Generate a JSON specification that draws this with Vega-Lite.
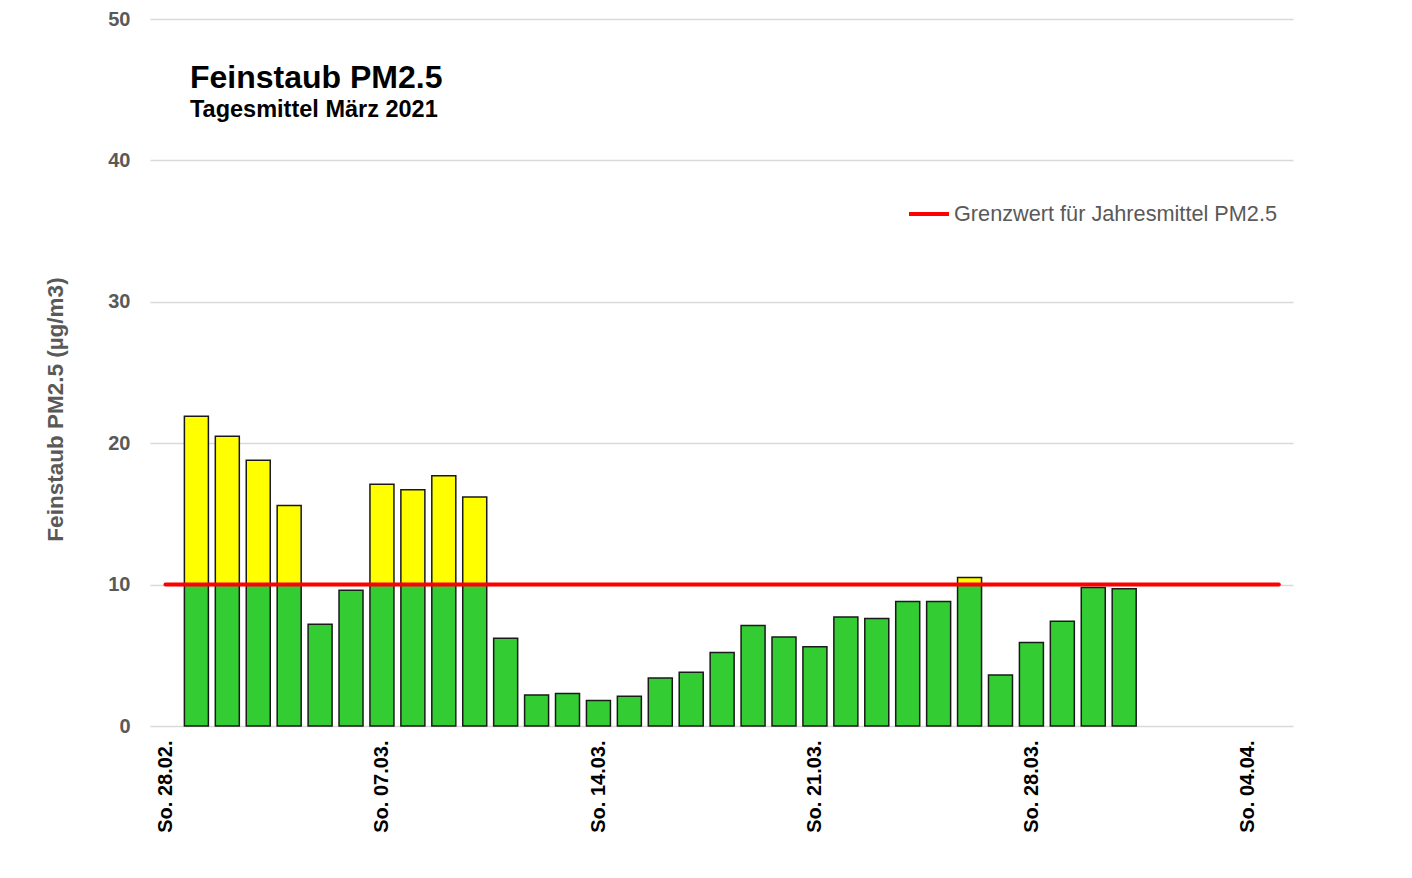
{
  "$schema": "https://vega.github.io/schema/vega-lite/v6.json",
  "autosize": {"type": "none"},
  "padding": {"top": 19, "left": 150, "right": 119, "bottom": 152},
  "width": 1143,
  "height": 707,
  "background": "white",
  "config": {
    "font": "Liberation Sans",
    "view": {"stroke": null}
  },
  "title": {
    "text": "Feinstaub PM2.5",
    "subtitle": "Tagesmittel März 2021",
    "anchor": "start",
    "frame": "group",
    "dx": 40,
    "dy": 117,
    "fontSize": 32,
    "fontWeight": "bold",
    "color": "#000000",
    "subtitleFontSize": 23.5,
    "subtitleFontWeight": "bold",
    "subtitleColor": "#000000",
    "subtitlePadding": 3
  },
  "datasets": {
    "tage": [
      {"Datum": "2021-03-01", "PM25": 21.9},
      {"Datum": "2021-03-02", "PM25": 20.5},
      {"Datum": "2021-03-03", "PM25": 18.8},
      {"Datum": "2021-03-04", "PM25": 15.6},
      {"Datum": "2021-03-05", "PM25": 7.2},
      {"Datum": "2021-03-06", "PM25": 9.6},
      {"Datum": "2021-03-07", "PM25": 17.1},
      {"Datum": "2021-03-08", "PM25": 16.7},
      {"Datum": "2021-03-09", "PM25": 17.7},
      {"Datum": "2021-03-10", "PM25": 16.2},
      {"Datum": "2021-03-11", "PM25": 6.2},
      {"Datum": "2021-03-12", "PM25": 2.2},
      {"Datum": "2021-03-13", "PM25": 2.3},
      {"Datum": "2021-03-14", "PM25": 1.8},
      {"Datum": "2021-03-15", "PM25": 2.1},
      {"Datum": "2021-03-16", "PM25": 3.4},
      {"Datum": "2021-03-17", "PM25": 3.8},
      {"Datum": "2021-03-18", "PM25": 5.2},
      {"Datum": "2021-03-19", "PM25": 7.1},
      {"Datum": "2021-03-20", "PM25": 6.3},
      {"Datum": "2021-03-21", "PM25": 5.6},
      {"Datum": "2021-03-22", "PM25": 7.7},
      {"Datum": "2021-03-23", "PM25": 7.6},
      {"Datum": "2021-03-24", "PM25": 8.8},
      {"Datum": "2021-03-25", "PM25": 8.8},
      {"Datum": "2021-03-26", "PM25": 10.5},
      {"Datum": "2021-03-27", "PM25": 3.6},
      {"Datum": "2021-03-28", "PM25": 5.9},
      {"Datum": "2021-03-29", "PM25": 7.4},
      {"Datum": "2021-03-30", "PM25": 9.8},
      {"Datum": "2021-03-31", "PM25": 9.7}
    ],
    "grenzwert": [
      {"von": "2021-02-28", "bis": "2021-04-05", "Grenzwert": 10, "Name": "Grenzwert für Jahresmittel PM2.5"}
    ]
  },
  "encoding": {
    "x": {
      "field": "Datum",
      "type": "temporal",
      "scale": {
        "type": "utc",
        "padding": 0,
        "domain": [
          {"year": 2021, "month": 2, "date": 27, "hours": 12, "utc": true},
          {"year": 2021, "month": 4, "date": 5, "hours": 11, "utc": true}
        ]
      },
      "axis": {
        "title": null,
        "values": [
          {"year": 2021, "month": 2, "date": 28, "utc": true},
          {"year": 2021, "month": 3, "date": 7, "utc": true},
          {"year": 2021, "month": 3, "date": 14, "utc": true},
          {"year": 2021, "month": 3, "date": 21, "utc": true},
          {"year": 2021, "month": 3, "date": 28, "utc": true},
          {"year": 2021, "month": 4, "date": 4, "utc": true}
        ],
        "labelExpr": "'So. ' + utcFormat(datum.value, '%d.%m.')",
        "labelAngle": 270,
        "labelFontSize": 20,
        "labelFontWeight": "bold",
        "labelColor": "#000000",
        "labelPadding": 14,
        "labelOverlap": false,
        "labelFlush": false,
        "ticks": false,
        "grid": false,
        "domain": false
      }
    }
  },
  "layer": [
    {
      "data": {"name": "tage"},
      "transform": [{"filter": "datum.PM25 <= 10"}],
      "mark": {"type": "bar", "size": 24, "fill": "#33cc33", "stroke": "#1a1a1a", "strokeWidth": 1.5},
      "encoding": {
        "y": {
          "field": "PM25",
          "type": "quantitative",
          "scale": {"domain": [0, 50]},
          "axis": {
            "title": "Feinstaub PM2.5 (µg/m3)",
            "values": [0, 10, 20, 30, 40, 50],
            "domain": false,
            "ticks": false,
            "gridColor": "#d9d9d9",
            "gridWidth": 1.5,
            "labelFontSize": 20,
            "labelFontWeight": "bold",
            "labelColor": "#595959",
            "labelPadding": 20,
            "titleFontSize": 22.5,
            "titleFontWeight": "bold",
            "titleColor": "#595959",
            "titlePadding": 40,
            "titleY": 390
          }
        }
      }
    },
    {
      "data": {"name": "tage"},
      "transform": [{"filter": "datum.PM25 > 10"}],
      "mark": {"type": "bar", "size": 24, "fill": "#33cc33", "stroke": "#1a1a1a", "strokeWidth": 1.5},
      "encoding": {
        "y": {"datum": 10, "type": "quantitative"},
        "y2": {"datum": 0}
      }
    },
    {
      "data": {"name": "tage"},
      "transform": [{"filter": "datum.PM25 > 10"}],
      "mark": {"type": "bar", "size": 24, "fill": "#ffff00", "stroke": "#1a1a1a", "strokeWidth": 1.5},
      "encoding": {
        "y": {"field": "PM25", "type": "quantitative"},
        "y2": {"datum": 10}
      }
    },
    {
      "data": {"name": "grenzwert"},
      "mark": {"type": "rule", "strokeWidth": 4, "strokeCap": "round"},
      "encoding": {
        "x": {"field": "von", "type": "temporal"},
        "x2": {"field": "bis"},
        "y": {"field": "Grenzwert", "type": "quantitative"},
        "stroke": {
          "field": "Name",
          "type": "nominal",
          "scale": {"range": ["#ff0000"]},
          "legend": {
            "title": null,
            "orient": "none",
            "legendX": 757,
            "legendY": 173,
            "symbolType": "stroke",
            "symbolSize": 1600,
            "symbolStrokeWidth": 4,
            "labelFontSize": 21.7,
            "labelColor": "#595959",
            "labelOffset": 3,
            "labelLimit": 500
          }
        }
      }
    }
  ]
}
